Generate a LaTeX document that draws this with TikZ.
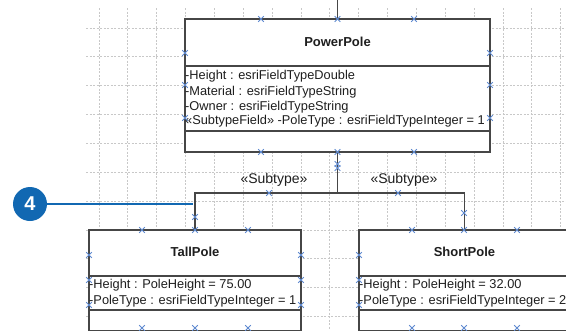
\documentclass[tikz,border=0pt]{standalone}
\usepackage{fontspec}
\setmainfont{Liberation Sans}
\usetikzlibrary{calc}
\definecolor{callout}{RGB}{17,104,178}
\definecolor{mkblue}{RGB}{95,138,208}
\definecolor{edgec}{RGB}{70,70,70}
\definecolor{gridc}{RGB}{200,200,200}
\definecolor{txt}{RGB}{30,30,30}
\tikzset{
  gridline/.style={draw=gridc, line width=0.8pt, dash pattern=on 2pt off 1.5pt},
  classbox/.style={draw=edgec, fill=white, line width=1.2pt, inner sep=0pt, outer sep=0pt},
  edgeline/.style={draw=edgec, line width=1.2pt},
  marker/.style={draw=mkblue, line width=1pt},
  attr/.style={inner sep=1pt, anchor=base west, text=txt, font=\fontsize{12.8}{15}\selectfont},
  ctitle/.style={inner sep=0pt, anchor=base, text=txt, font=\fontsize{13}{15}\selectfont\bfseries},
  stereo/.style={inner sep=0pt, anchor=base, text=txt, font=\fontsize{14}{16}\selectfont},
  callcircle/.style={circle, fill=callout, minimum size=34pt, inner sep=0pt, text=white, font=\fontsize{20}{20}\selectfont\bfseries},
  callline/.style={draw=callout, line width=2.5pt}
}
\newcommand\mk[1]{\draw[marker] (#1) +(-2.8,-2.8) -- +(2.8,2.8) +(-2.8,2.8) -- +(2.8,-2.8);}
\begin{document}
\begin{tikzpicture}[x=1pt,y=-1pt]
\useasboundingbox (0,0) rectangle (566,330);
\clip (0,0) rectangle (566,330);
% grid
\foreach \i in {0,...,16} \draw[gridline] ({99+28.85*\i},8) -- ({99+28.85*\i},330);
\foreach \j in {0,...,10} \draw[gridline] (86,{28+28.85*\j}) -- (566,{28+28.85*\j});

% PowerPole
\node[classbox, minimum width=305, minimum height=133, anchor=north west] (pp) at (185,19) {};
\draw[edgeline] ($(pp.north west)+(0,47)$) -- ($(pp.north east)+(0,47)$);
\draw[edgeline] ($(pp.north west)+(0,112)$) -- ($(pp.north east)+(0,112)$);
\node[ctitle] (pptitle) at (337.5,46.5) {PowerPole};
\node[attr] (ppa1) at (184,79) {-Height : esriFieldTypeDouble};
\node[attr] (ppa2) at (184,95) {-Material : esriFieldTypeString};
\node[attr] (ppa3) at (184,110) {-Owner : esriFieldTypeString};
\node[attr] (ppa4) at (184,124.5) {«SubtypeField» -PoleType : esriFieldTypeInteger = 1};

% TallPole
\node[classbox, minimum width=212, minimum height=101, anchor=north west] (tp) at (89,230) {};
\draw[edgeline] ($(tp.north west)+(0,46)$) -- ($(tp.north east)+(0,46)$);
\draw[edgeline] ($(tp.north west)+(0,80)$) -- ($(tp.north east)+(0,80)$);
\node[ctitle] (tptitle) at (195,256) {TallPole};
\node[attr] (tpa1) at (88,288) {-Height : PoleHeight = 75.00};
\node[attr] (tpa2) at (88,304) {-PoleType : esriFieldTypeInteger = 1};

% ShortPole
\node[classbox, minimum width=211, minimum height=101, anchor=north west] (sp) at (359,230) {};
\draw[edgeline] ($(sp.north west)+(0,46)$) -- ($(sp.north east)+(0,46)$);
\draw[edgeline] ($(sp.north west)+(0,80)$) -- ($(sp.north east)+(0,80)$);
\node[ctitle] (sptitle) at (464.5,256) {ShortPole};
\node[attr] (spa1) at (358,288) {-Height : PoleHeight = 32.00};
\node[attr] (spa2) at (358,304) {-PoleType : esriFieldTypeInteger = 2};

% connectors
\coordinate (topend) at (337.5,0);
\coordinate (junc) at (337.5,193);
\draw[edgeline] (pp.north) -- (topend);
\draw[edgeline] (pp.south) -- (junc);
\draw[edgeline] (tp.north) |- (junc);
\draw[edgeline] (sp.north) |- (junc);
\node[stereo] (st1) at (274,183) {«Subtype»};
\node[stereo] (st2) at (404,183) {«Subtype»};

% callout
\node[callcircle] (c4) at (30,204) {4};
\coordinate (c4end) at (193,204);
\draw[callline] (c4) -- (c4end);

% markers
\foreach \x in {261,337.5,414} {\mk{\x,19} \mk{\x,152}}
\foreach \y in {53,85,118} {\mk{185,\y} \mk{490,\y}}
\mk{337.5,164} \mk{337.5,168}
\mk{269,193} \mk{398,193}
\mk{195,217} \mk{464,213}
\foreach \x in {142,195,248} {\mk{\x,230} \mk{\x,328}}
\foreach \x in {412,464,517} {\mk{\x,230} \mk{\x,328}}
\foreach \y in {255,280,305} {\mk{89,\y} \mk{301,\y} \mk{359,\y}}
\end{tikzpicture}
\end{document}
